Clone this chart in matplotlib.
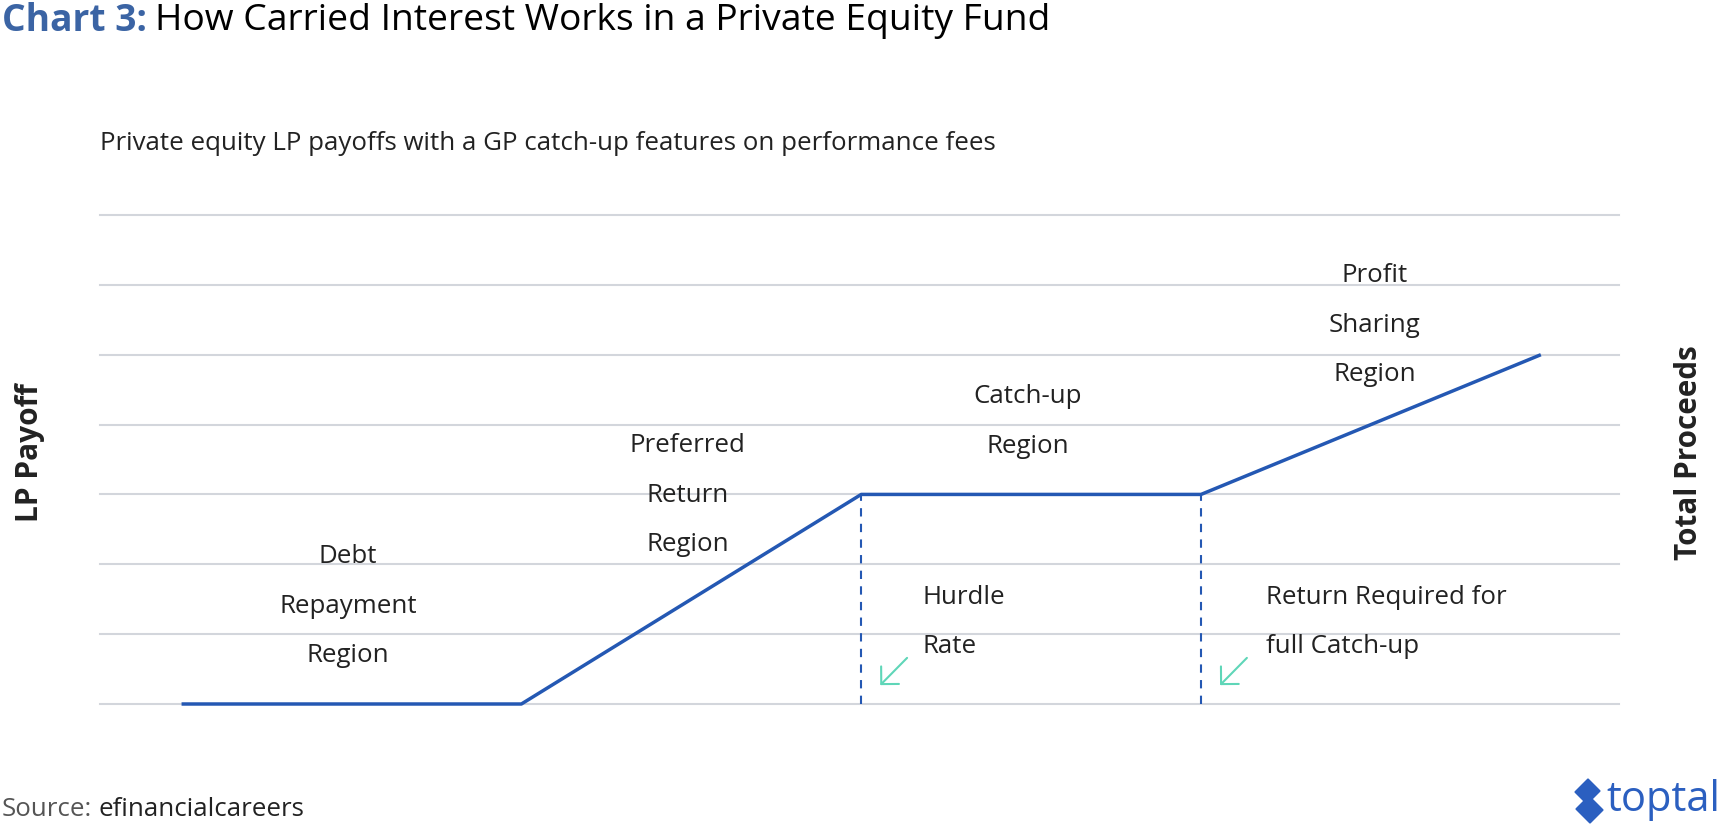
import matplotlib
matplotlib.use("Agg")
import matplotlib.pyplot as plt
from matplotlib.patches import Polygon

plt.rcParams['font.family'] = ['Open Sans', 'DejaVu Sans']

# LP payoff kinks (x = total proceeds step, y = payoff in grid units)
proceeds = [0, 1, 2, 3, 4]
lp_payoff = [0, 0, 3, 3, 5]
grid_levels = [0, 1, 2, 3, 4, 5, 6, 7]
hurdle_x = 2
catchup_x = 3

region_labels = [
    (["Debt", "Repayment", "Region"], 0.49, 2.11),
    (["Preferred", "Return", "Region"], 1.49, 3.70),
    (["Catch-up", "Region"], 2.49, 4.40),
    (["Profit", "Sharing", "Region"], 3.51, 6.13),
]
marker_labels = [
    (["Hurdle", "Rate"], 2.18, 1.53),
    (["Return Required for", "full Catch-up"], 3.19, 1.53),
]

blue = '#2458b3'
grid_col = '#d3d6dc'
teal = '#5fd6b8'
txt = '#222222'
body = 18.6

fig = plt.figure(figsize=(17.2, 8.25), dpi=100)
ax = fig.add_axes([100/1720, 121/825, 1519/1720, 489/825])
ax.set_xlim(-0.24, 4.23)
ax.set_ylim(0, 7)
ax.axis('off')

for g in grid_levels:
    ax.axhline(g, color=grid_col, lw=1.5, zorder=1, clip_on=False)

ax.plot(proceeds, lp_payoff, color=blue, lw=2.5, zorder=3, clip_on=False,
        solid_capstyle='butt')
for vx in (hurdle_x, catchup_x):
    ax.plot([vx, vx], [0, 3], color=blue, lw=1.5, ls=(0, (4, 3.5)), zorder=2)

step = 0.71
for lines, x, y in region_labels:
    for i, s in enumerate(lines):
        ax.text(x, y - i*step, s, ha='center', va='center', fontsize=body, color=txt)
for lines, x, y in marker_labels:
    for i, s in enumerate(lines):
        ax.text(x, y - i*step, s, ha='left', va='center', fontsize=body, color=txt)

for vx in (hurdle_x, catchup_x):
    ax.annotate('', xy=(vx + 0.056, 0.27), xytext=(vx + 0.135, 0.66),
                arrowprops=dict(arrowstyle='->,head_length=0.9,head_width=0.9',
                                color=teal, lw=1.5, shrinkA=0, shrinkB=0))

# title
t1 = fig.text(2/1720, 1 - 21/825, 'Chart 3:', fontsize=26.8, fontweight='bold',
              color='#3b64a4', ha='left', va='center')
fig.canvas.draw()
bb = t1.get_window_extent()
fig.text(bb.x1/1720 + 8/1720, 1 - 21/825, 'How Carried Interest Works in a Private Equity Fund',
         fontsize=26.8, color='black', ha='left', va='center')

fig.text(100/1720, 1 - 143/825,
         'Private equity LP payoffs with a GP catch-up features on performance fees',
         fontsize=body, color=txt, ha='left', va='center')

fig.text(30/1720, 1 - 453/825, 'LP Payoff', rotation=90, fontsize=21.5,
         fontweight='bold', color=txt, ha='center', va='center')
fig.text(1689/1720, 1 - 453/825, 'Total Proceeds', rotation=90, fontsize=21.3,
         fontweight='bold', color=txt, ha='center', va='center')

s1 = fig.text(2/1720, 1 - 810/825, 'Source:', fontsize=body, color='#555555',
              ha='left', va='center')
fig.canvas.draw()
bb = s1.get_window_extent()
fig.text(bb.x1/1720 + 6/1720, 1 - 810/825, 'efinancialcareers', fontsize=body,
         color=txt, ha='left', va='center')

# toptal mark
fig.text(1720/1720, 1 - 800/825, 'toptal', fontsize=30, color='#2b5fc0',
         ha='right', va='center')
icon = Polygon([(1588, 46), (1600, 34), (1592, 26), (1603, 15), (1590, 2),
                (1576, 16), (1584, 24), (1575, 33)],
               closed=True, transform=None, color='#2b5fc0')
fig.patches.append(icon)

fig.savefig('out.png', dpi=100)
